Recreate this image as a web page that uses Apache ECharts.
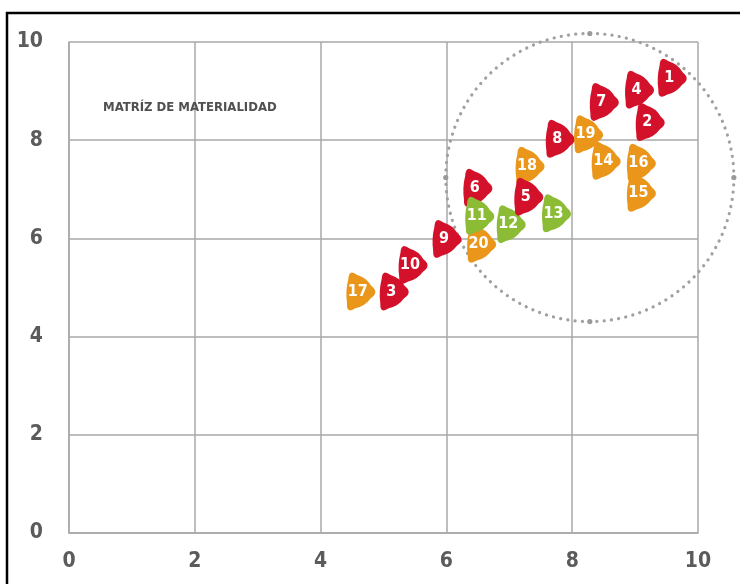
<!DOCTYPE html>
<html>
<head>
<meta charset="utf-8">
<script src="https://cdn.jsdelivr.net/npm/echarts@6/dist/echarts.min.js"></script>
<style>
  html, body { margin: 0; padding: 0; background: #ffffff; }
  #chart { width: 740px; height: 584px; }
</style>
</head>
<body>
<div id="chart"></div>
<script>
// Materiality matrix: numbered issues placed by importance on both axes
const issueIds = [1, 2, 3, 4, 5, 6, 7, 8, 9, 10, 11, 12, 13, 14, 15, 16, 17, 18, 19, 20];
const issueX   = [9.59, 9.24, 5.17, 9.07, 7.31, 6.50, 8.51, 7.81, 6.01, 5.47, 6.53, 7.03, 7.75, 8.54, 9.10, 9.10, 4.64, 7.33, 8.26, 6.56];
const issueY   = [9.27, 8.37, 4.92, 9.03, 6.85, 7.03, 8.78, 8.03, 5.99, 5.46, 6.46, 6.29, 6.51, 7.58, 6.93, 7.54, 4.92, 7.48, 8.12, 5.89];
const issueLevel = ['alta', 'alta', 'alta', 'alta', 'alta', 'alta', 'alta', 'alta', 'alta', 'alta',
                    'media', 'media', 'media', 'baja', 'baja', 'baja', 'baja', 'baja', 'baja', 'baja'];
// stacking order of the markers (later ones sit on top)
const drawOrder = [10, 3, 17, 9, 6, 20, 11, 12, 18, 5, 13, 8, 14, 19, 7, 4, 2, 16, 15, 1];

const xTicks = [0, 2, 4, 6, 8, 10];
const yTicks = [0, 2, 4, 6, 8, 10];

// highlighted zone (dotted circle): centre and radius in x-axis units
const focusCenter = [8.28, 7.24];
const focusRadiusX = 2.29;

const levelColors = { alta: '#d3112a', media: '#8cbb36', baja: '#e9961b' };
const FONT = "'DejaVu Sans Condensed', 'Liberation Sans Narrow', 'Noto Sans', sans-serif";

// rounded, slightly convex triangle pointing right
const pickPath = 'path://M91.3,54.9 Q168.3,76.2 208.7,145.1 Q280,200 204.3,248.7 Q156.2,315.2 75.7,331.3 ' +
                 'Q0,380 4.7,290.1 Q-10,189 15.3,89.9 Q20,0 91.3,54.9 Z';

const points = drawOrder.map(id => {
  const i = issueIds.indexOf(id);
  return {
    value: [issueX[i], issueY[i]],
    name: String(id),
    itemStyle: { color: levelColors[issueLevel[i]], opacity: 1 }
  };
});

const chart = echarts.init(document.getElementById('chart'), null, { renderer: 'canvas' });

const axisLineStyle = { color: '#a8a8a8', width: 1.5 };
const labelStyle = { color: '#5b5b5b', fontFamily: FONT, fontWeight: 'bold', fontSize: 21 };

chart.setOption({
  backgroundColor: '#ffffff',
  animation: false,
  grid: { left: 69, right: 42, top: 42, bottom: 51, containLabel: false },
  xAxis: {
    type: 'value', min: xTicks[0], max: xTicks[xTicks.length - 1], interval: 2,
    axisLine: { show: true, lineStyle: axisLineStyle },
    axisTick: { show: false },
    splitLine: { show: true, lineStyle: axisLineStyle },
    axisLabel: Object.assign({ margin: 18 }, labelStyle)
  },
  yAxis: {
    type: 'value', min: yTicks[0], max: yTicks[yTicks.length - 1], interval: 2,
    axisLine: { show: true, lineStyle: axisLineStyle },
    axisTick: { show: false },
    splitLine: { show: true, lineStyle: axisLineStyle },
    axisLabel: Object.assign({ margin: 26 }, labelStyle)
  },
  series: [{
    type: 'scatter',
    symbol: pickPath,
    symbolSize: [29, 38],
    data: points,
    z: 5,
    itemStyle: { opacity: 1 },
    label: {
      show: true,
      position: 'inside',
      offset: [-3, 0],
      formatter: p => p.name,
      color: '#ffffff',
      fontFamily: FONT,
      fontWeight: 'bold',
      fontSize: 16
    },
    emphasis: { disabled: true }
  }]
});

// decorations that depend on the axis scale
const c = chart.convertToPixel({ gridIndex: 0 }, focusCenter);
const edge = chart.convertToPixel({ gridIndex: 0 }, [focusCenter[0] + focusRadiusX, focusCenter[1]]);
const r = edge[0] - c[0];
const dotStyle = { fill: '#9a9a9a' };

chart.setOption({
  graphic: [
    {
      type: 'rect', z: 100, silent: true,
      shape: { x: 7, y: 13, width: 900, height: 900 },
      style: { fill: null, stroke: '#000000', lineWidth: 2.5 }
    },
    {
      type: 'text', z: 10, silent: true,
      left: 103, top: 101,
      style: {
        text: 'MATRÍZ DE MATERIALIDAD',
        fill: '#505050', font: 'bold 13px ' + FONT
      }
    },
    {
      type: 'circle', z: 1, silent: true,
      shape: { cx: c[0], cy: c[1], r: r },
      style: { fill: null, stroke: '#a0a0a0', lineWidth: 3.2, lineDash: [0.1, 7.2], lineCap: 'round' }
    },
    { type: 'circle', z: 1, silent: true, shape: { cx: c[0], cy: c[1] - r, r: 2.6 }, style: dotStyle },
    { type: 'circle', z: 1, silent: true, shape: { cx: c[0], cy: c[1] + r, r: 2.6 }, style: dotStyle },
    { type: 'circle', z: 1, silent: true, shape: { cx: c[0] - r, cy: c[1], r: 2.6 }, style: dotStyle },
    { type: 'circle', z: 1, silent: true, shape: { cx: c[0] + r, cy: c[1], r: 2.6 }, style: dotStyle }
  ]
});
</script>
</body>
</html>
